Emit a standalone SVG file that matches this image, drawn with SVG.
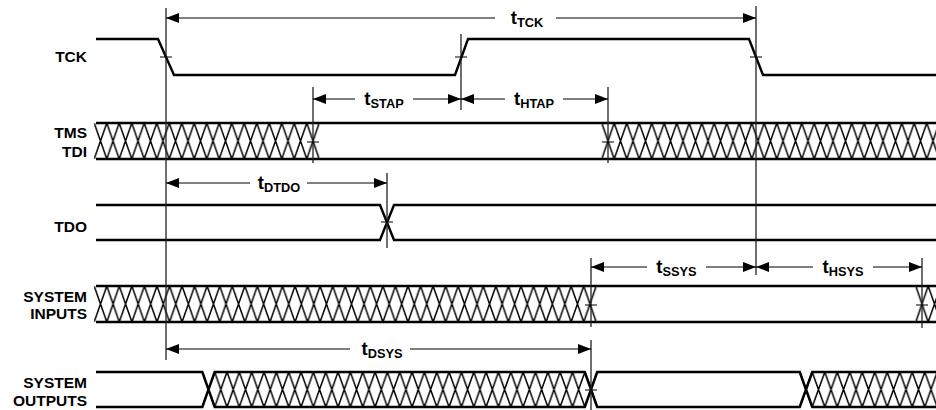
<svg xmlns="http://www.w3.org/2000/svg" width="936" height="410" viewBox="0 0 936 410">
<style>
.sig{fill:none;stroke:#000;stroke-width:2.4;stroke-linejoin:miter}
.thin{fill:none;stroke:#000;stroke-width:1.2}
.guide{fill:none;stroke:#222;stroke-width:1.3}
.dim{fill:none;stroke:#000;stroke-width:1.2}
.lbl{font-family:"Liberation Sans",Arial,Helvetica,sans-serif;font-weight:bold;font-size:15.5px;fill:#000;text-anchor:end}
.tl{font-family:"Liberation Sans",Arial,Helvetica,sans-serif;font-weight:bold;font-size:18.5px;fill:#000;text-anchor:middle}
.sub{font-size:12.8px}
.hp{stroke:#000;stroke-width:1.5;fill:none}
</style>
<defs>
<marker id="ah" viewBox="0 0 13 10" refX="13" refY="5" markerWidth="13" markerHeight="10" markerUnits="userSpaceOnUse" orient="auto-start-reverse">
<path d="M0,0 L13,5 L0,10 z" fill="#000"/>
</marker>
<pattern id="h1" patternUnits="userSpaceOnUse" x="94.25" y="123" width="12.5" height="36">
<path class="hp" d="M0,0 L12.5,36 M0,36 L12.5,0"/>
</pattern>
<pattern id="h2" patternUnits="userSpaceOnUse" x="601.75" y="123" width="12.5" height="36">
<path class="hp" d="M0,0 L12.5,36 M0,36 L12.5,0"/>
</pattern>
<pattern id="h3" patternUnits="userSpaceOnUse" x="94.22" y="286" width="12.551" height="36">
<path class="hp" d="M0,0 L12.551,36 M0,36 L12.551,0"/>
</pattern>
<pattern id="h4" patternUnits="userSpaceOnUse" x="915.75" y="286" width="12.5" height="36">
<path class="hp" d="M0,0 L12.5,36 M0,36 L12.5,0"/>
</pattern>
<pattern id="h5" patternUnits="userSpaceOnUse" x="202.33" y="372" width="12.339" height="35">
<path class="hp" d="M0,0 L12.339,35 M0,35 L12.339,0"/>
</pattern>
<pattern id="h6" patternUnits="userSpaceOnUse" x="799.75" y="372" width="12.5" height="35">
<path class="hp" d="M0,0 L12.5,35 M0,35 L12.5,0"/>
</pattern>
</defs>

<g id="tck">
<text class="lbl" x="87" y="62">TCK</text>
<path class="sig" d="M96,39 L158,39 L174,75 L455,75 L468,39 L749,39 L763,75 L936,75"/>
</g>

<g id="tms-tdi">
<text class="lbl" x="87" y="138">TMS</text>
<text class="lbl" x="87" y="157">TDI</text>
<rect x="94.25" y="123" width="225" height="36" fill="url(#h1)"/>
<rect x="601.75" y="123" width="334.25" height="36" fill="url(#h2)"/>
<path class="sig" d="M96,123 L936,123 M96,159 L936,159"/>
</g>

<g id="tdo">
<text class="lbl" x="87" y="232">TDO</text>
<path class="sig" d="M96,205 L380,205 L394,240 L936,240 M96,240 L380,240 L394,205 L936,205"/>
</g>

<g id="system-inputs">
<text class="lbl" x="87" y="302">SYSTEM</text>
<text class="lbl" x="87" y="319">INPUTS</text>
<rect x="94.22" y="286" width="502.06" height="36" fill="url(#h3)"/>
<rect x="915.75" y="286" width="20.25" height="36" fill="url(#h4)"/>
<path class="sig" d="M96,286 L936,286 M96,322 L936,322"/>
</g>

<g id="system-outputs">
<text class="lbl" x="87" y="388">SYSTEM</text>
<text class="lbl" x="87" y="406">OUTPUTS</text>
<rect x="202.33" y="372" width="394.84" height="35" fill="url(#h5)"/>
<rect x="799.75" y="372" width="136.25" height="35" fill="url(#h6)"/>
<path class="sig" d="M96,372 L202.3,372 L214.7,407 L584.8,407 L597.2,372 L799.75,372 L812.25,407 L936,407 M96,407 L202.3,407 L214.7,372 L584.8,372 L597.2,407 L799.75,407 L812.25,372 L936,372"/>
</g>

<g id="connectors">
<path class="guide" d="M166,8 V360 M461,34 V110 M756,6 V275 M313,87 V163 M608,87 V163 M387,173 V248 M591,258 V327 M591,340 V410 M922,258 V328"/>
<path class="thin" d="M160,57 H172 M455,57 H467 M750,57 H762 M307,142 H319 M602,142 H614 M381,222 H393 M585,305 H597 M916,305 H928 M585,390 H597"/>
<g class="dims">
<line class="dim" x1="166" y1="18" x2="495" y2="18" marker-start="url(#ah)"/>
<line class="dim" x1="556" y1="18" x2="756" y2="18" marker-end="url(#ah)"/>
<line class="dim" x1="313" y1="99" x2="355" y2="99" marker-start="url(#ah)"/>
<line class="dim" x1="413" y1="99" x2="461" y2="99" marker-end="url(#ah)"/>
<line class="dim" x1="461" y1="99" x2="505" y2="99" marker-start="url(#ah)"/>
<line class="dim" x1="563" y1="99" x2="608" y2="99" marker-end="url(#ah)"/>
<line class="dim" x1="166" y1="183" x2="250" y2="183" marker-start="url(#ah)"/>
<line class="dim" x1="307" y1="183" x2="387" y2="183" marker-end="url(#ah)"/>
<line class="dim" x1="591" y1="267" x2="647" y2="267" marker-start="url(#ah)"/>
<line class="dim" x1="706" y1="267" x2="756" y2="267" marker-end="url(#ah)"/>
<line class="dim" x1="756" y1="267" x2="813" y2="267" marker-start="url(#ah)"/>
<line class="dim" x1="873" y1="267" x2="922" y2="267" marker-end="url(#ah)"/>
<line class="dim" x1="166" y1="349" x2="350" y2="349" marker-start="url(#ah)"/>
<line class="dim" x1="410" y1="349" x2="591" y2="349" marker-end="url(#ah)"/>
</g>
<text class="tl" x="527" y="24">t<tspan class="sub" dy="3">TCK</tspan></text>
<text class="tl" x="384" y="105">t<tspan class="sub" dy="3">STAP</tspan></text>
<text class="tl" x="534" y="105">t<tspan class="sub" dy="3">HTAP</tspan></text>
<text class="tl" x="279" y="189">t<tspan class="sub" dy="3">DTDO</tspan></text>
<text class="tl" x="676.5" y="273">t<tspan class="sub" dy="3">SSYS</tspan></text>
<text class="tl" x="843" y="273">t<tspan class="sub" dy="3">HSYS</tspan></text>
<text class="tl" x="382" y="355">t<tspan class="sub" dy="3">DSYS</tspan></text>
</g>
</svg>
